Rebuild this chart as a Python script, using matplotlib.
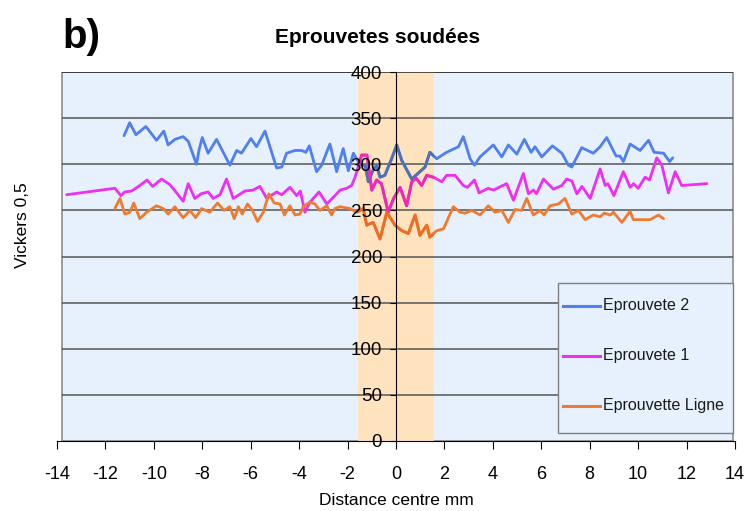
import matplotlib
matplotlib.use('Agg')
import matplotlib.pyplot as plt
from matplotlib.patches import Rectangle
from matplotlib.colors import to_rgb

# Hardness profiles (x = distance in mm, y = HV 0.5)
ep2_x = [-11.23, -11.0, -10.74, -10.33, -9.89, -9.59, -9.41, -9.13, -8.79, -8.58,
         -8.24, -8.13, -8.0, -7.76, -7.41, -6.86, -6.58, -6.38, -5.99, -5.76,
         -5.41, -4.93, -4.72, -4.52, -4.17, -3.9, -3.72, -3.58, -3.28, -3.07,
         -2.73, -2.45, -2.18, -1.97, -1.76, -1.5, -1.28, -1.14, -0.96, -0.8,
         -0.66, -0.46, -0.18, 0.03, 0.24, 0.65, 1.2, 1.4, 1.68, 2.09,
         2.58, 2.78, 3.06, 3.24, 3.47, 4.02, 4.37, 4.64, 4.99, 5.3,
         5.58, 5.74, 6.02, 6.46, 6.85, 7.12, 7.26, 7.67, 8.15, 8.43,
         8.7, 9.09, 9.25, 9.39, 9.67, 10.08, 10.43, 10.66, 11.05, 11.3, 11.43]
ep2_y = [331, 345, 332, 341, 326, 336, 321, 327, 330, 325,
         300, 316, 329, 312, 327, 299, 315, 312, 328, 319,
         336, 296, 297, 312, 315, 315, 313, 320, 292, 299,
         322, 292, 317, 293, 312, 300, 299, 281, 293, 299,
         286, 288, 306, 321, 304, 284, 297, 313, 306, 313,
         319, 330, 306, 299, 308, 321, 308, 321, 311, 327,
         313, 319, 308, 320, 312, 299, 297, 318, 312, 319,
         329, 309, 309, 303, 322, 315, 326, 313, 312, 303, 307]

ep1_x = [-13.6, -11.61, -11.36, -11.2, -10.92, -10.58, -10.28, -10.05, -9.68, -9.34,
         -9.06, -8.79, -8.58, -8.31, -8.05, -7.76, -7.55, -7.27, -7.0, -6.72,
         -6.24, -5.9, -5.62, -5.34, -4.93, -4.72, -4.38, -4.1, -3.95, -3.76,
         -3.55, -3.18, -2.86, -2.52, -2.31, -2.04, -1.83, -1.69, -1.42, -1.2,
         -1.0, -0.8, -0.6, -0.32, -0.1, 0.17, 0.44, 0.65, 0.83, 1.06,
         1.27, 1.55, 1.89, 2.09, 2.44, 2.78, 2.95, 3.24, 3.43, 3.81,
         4.02, 4.57, 4.85, 5.26, 5.47, 5.68, 5.8, 6.09, 6.5, 6.85,
         7.05, 7.26, 7.47, 7.68, 8.02, 8.43, 8.64, 8.75, 9.0, 9.39,
         9.67, 9.81, 10.0, 10.29, 10.47, 10.77, 10.98, 11.25, 11.53, 11.8, 12.84]
ep1_y = [267, 274, 266, 270, 271, 277, 283, 276, 284, 278,
         269, 260, 279, 263, 268, 270, 263, 267, 284, 263,
         271, 272, 276, 263, 270, 267, 275, 266, 271, 248,
         259, 270, 257, 266, 272, 274, 277, 286, 310, 310,
         272, 283, 279, 248, 263, 275, 255, 281, 285, 277,
         288, 286, 281, 288, 288, 277, 275, 283, 269, 274,
         272, 279, 261, 290, 268, 272, 268, 284, 273, 277,
         284, 282, 268, 276, 263, 295, 277, 279, 266, 292,
         275, 279, 274, 286, 283, 307, 299, 269, 292, 277, 279]

ligne_x = [-11.61, -11.4, -11.2, -10.99, -10.83, -10.58, -10.3, -9.89, -9.61, -9.41,
           -9.13, -8.79, -8.51, -8.27, -8.03, -7.69, -7.37, -7.1, -6.86, -6.68,
           -6.51, -6.35, -6.13, -5.93, -5.72, -5.48, -5.25, -5.03, -4.79, -4.61,
           -4.38, -4.17, -3.97, -3.83, -3.55, -3.35, -3.14, -2.86, -2.66, -2.52,
           -2.31, -1.9, -1.62, -1.35, -1.21, -0.94, -0.66, -0.38, -0.04, 0.24,
           0.51, 0.79, 0.99, 1.27, 1.4, 1.68, 1.96, 2.37, 2.65, 2.85,
           3.13, 3.47, 3.81, 4.09, 4.37, 4.64, 4.92, 5.19, 5.4, 5.67,
           5.95, 6.12, 6.36, 6.71, 6.98, 7.26, 7.54, 7.81, 8.15, 8.43,
           8.6, 8.85, 8.98, 9.33, 9.67, 9.8, 10.5, 10.84, 11.05]
ligne_y = [252, 263, 246, 248, 258, 241, 248, 255, 252, 246,
           254, 242, 250, 242, 252, 248, 258, 250, 254, 241,
           254, 246, 257, 250, 238, 248, 268, 258, 257, 245,
           255, 245, 246, 254, 259, 257, 250, 255, 245, 252,
           254, 252, 248, 252, 234, 237, 219, 248, 234, 228,
           225, 245, 223, 234, 221, 228, 230, 254, 248, 247,
           250, 245, 255, 248, 250, 237, 251, 250, 263, 245,
           250, 245, 255, 257, 263, 246, 250, 240, 245, 243,
           247, 245, 248, 237, 249, 240, 240, 245, 241]

labels = ['Eprouvete 2', 'Eprouvete 1', 'Eprouvette Ligne']
colors = ['#4F7FF0', '#EE2EF0', '#EE7B30']
weld_half = 1.55   # half width of the shaded weld zone, mm
band_color = '#FFE3BE'

xticks = list(range(-14, 15, 2))
yticks = list(range(0, 401, 50))

plt.rcParams['font.family'] = ['Liberation Sans', 'DejaVu Sans']

fig = plt.figure(figsize=(7.48, 5.11), dpi=100)
ax = fig.add_axes([0.0762, 0.137, 0.9064, 0.722])
ax.set_xlim(-14, 14)
ax.set_ylim(0, 400)

# plot area, weld zone, gridlines
ax.add_patch(Rectangle((-13.8, 0), 27.73, 400, facecolor='#E6F1FD',
                       edgecolor='#8C8C8C', lw=1.2, zorder=0))
ax.axvspan(-weld_half, weld_half, ymin=0, ymax=1, color=band_color, lw=0, zorder=0.5)
ax.hlines(yticks[1:-1], -13.8, 13.93, colors='#555555', lw=1.1, zorder=1)
ax.hlines(400, -13.8, 13.93, colors='#222222', lw=1.1, zorder=1)

# lines; inside the weld zone the band tints them (multiply look)
band_rgb = to_rgb(band_color)
series = [(ep2_x, ep2_y), (ep1_x, ep1_y), (ligne_x, ligne_y)]
for (xs, ys), c, lab in zip(series, colors, labels):
    ax.plot(xs, ys, color=c, lw=2, label=lab, zorder=2,
            solid_joinstyle='round', solid_capstyle='round')
    tint = tuple(a * b for a, b in zip(to_rgb(c), band_rgb))
    ln, = ax.plot(xs, ys, color=tint, lw=2.05, zorder=2.1, solid_joinstyle='round')
    clip = Rectangle((-weld_half, 0), 2 * weld_half, 400, transform=ax.transData)
    ln.set_clip_path(clip)

ax.spines['top'].set_visible(False)
ax.spines['right'].set_visible(False)
ax.spines['left'].set_position(('data', 0))
ax.spines['left'].set_color('black')
ax.spines['bottom'].set_color('black')
ax.set_axisbelow(False)

ax.set_xticks(xticks)
ax.set_xticklabels([str(t) for t in xticks])
ax.set_yticks(yticks)
ax.set_yticklabels([str(t) for t in yticks])
ax.tick_params(axis='x', direction='out', length=6, pad=12, labelsize=13, colors='black')
ax.tick_params(axis='y', direction='out', length=4, pad=6, labelsize=13.5, colors='black')
for lbl in ax.get_yticklabels():
    lbl.set_zorder(5)

ax.set_xlabel('Distance centre mm', fontsize=12.5, labelpad=7)
fig.text(0.03, 0.56, 'Vickers 0,5', rotation=90, ha='center', va='center', fontsize=12.5)

fig.text(0.505, 0.926, 'Eprouvetes soudées', ha='center', va='center',
         fontsize=15, fontweight='bold')
fig.text(0.083, 0.928, 'b)', ha='left', va='center', fontsize=29, fontweight='bold')

# legend box drawn in axes fraction coordinates
tr = ax.transAxes
ax.add_patch(Rectangle((0.739, 0.022), 0.258, 0.406, transform=tr, facecolor='#E6F1FD',
                       edgecolor='#7F7F7F', lw=1.0, zorder=6))
for i, (c, lab) in enumerate(zip(colors, labels)):
    ly = 0.366 - i * 0.1355
    ax.plot([0.7463, 0.8009], [ly, ly], color=c, lw=2.2, transform=tr, zorder=7,
            clip_on=False)
    ax.text(0.8053, ly, lab, transform=tr, ha='left', va='center', fontsize=11.5,
            color='#1A1A1A', zorder=7)

fig.savefig('out.png', dpi=100)
